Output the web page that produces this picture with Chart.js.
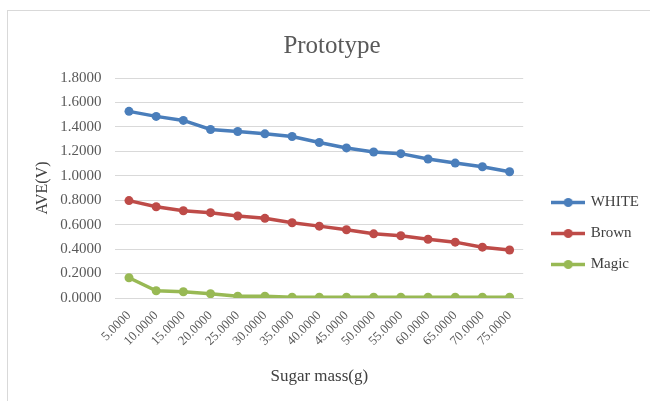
<!DOCTYPE html>
<html>
<head>
<meta charset="utf-8">
<script src="https://cdn.jsdelivr.net/npm/chart.js@4/dist/chart.umd.min.js"></script>
<style>
  html, body { margin: 0; padding: 0; background: #fff; overflow: hidden; }
  #frame {
    position: absolute; left: 7px; top: 10px; width: 700px; height: 500px;
    border: 1px solid #d9d9d9;
  }
  #wrap { position: absolute; left: 0; top: 0; width: 650px; height: 401px; }
</style>
</head>
<body>
<div id="frame"></div>
<div id="wrap"><canvas id="chart"></canvas></div>
<script>
// Sugar mass categories (g), as printed on the x axis.
const massLabels = ['5.0000', '10.0000', '15.0000', '20.0000', '25.0000', '30.0000', '35.0000',
    '40.0000', '45.0000', '50.0000', '55.0000', '60.0000', '65.0000', '70.0000', '75.0000'];

// AVE(V) readings per sugar type.
const whiteValues = [1.527, 1.486, 1.453, 1.379, 1.362, 1.343, 1.321, 1.272, 1.228, 1.195, 1.181, 1.137, 1.104, 1.074, 1.033];
const brownValues = [0.797, 0.747, 0.714, 0.698, 0.671, 0.652, 0.616, 0.588, 0.558, 0.525, 0.509, 0.481, 0.457, 0.416, 0.393];
const magicValues = [0.166, 0.059, 0.051, 0.035, 0.015, 0.015, 0.007, 0.007, 0.007, 0.007, 0.007, 0.007, 0.007, 0.007, 0.007];

const seriesNames = ['WHITE', 'Brown', 'Magic'];
const seriesColors = ['#4a7ebb', '#be4b48', '#98b954'];

Chart.defaults.font.family = "'Liberation Serif', 'DejaVu Serif', serif";
Chart.defaults.color = '#595959';

// Legend marker: a short line with a dot, the way Excel draws it.
function legendIcon(color) {
    const c = document.createElement('canvas');
    c.width = 34;
    c.height = 11;
    const ctx = c.getContext('2d');
    ctx.strokeStyle = color;
    ctx.lineWidth = 3.5;
    ctx.beginPath();
    ctx.moveTo(0, 5.5);
    ctx.lineTo(34, 5.5);
    ctx.stroke();
    ctx.fillStyle = color;
    ctx.beginPath();
    ctx.arc(17, 5.5, 4.5, 0, Math.PI * 2);
    ctx.fill();
    return c;
}
const icons = seriesColors.map(legendIcon);

// Excel centres the legend on the whole plot block, not just the chart area.
const legendNudge = {
    id: 'legendNudge',
    afterLayout(chart) {
        const l = chart.legend;
        l.left += 14; l.right += 14;
        l.top += 33; l.bottom += 33;
    },
};

const datasets = [whiteValues, brownValues, magicValues].map((values, i) => ({
    label: seriesNames[i],
    data: values,
    borderColor: seriesColors[i],
    backgroundColor: seriesColors[i],
    borderWidth: 3.5,
    pointRadius: 4.5,
    pointHoverRadius: 4.5,
    pointBorderWidth: 0,
    tension: 0,
}));

new Chart(document.getElementById('chart'), {
    type: 'line',
    data: { labels: massLabels, datasets },
    plugins: [legendNudge],
    options: {
        responsive: true,
        maintainAspectRatio: false,
        animation: false,
        layout: { padding: { left: 29, right: 15, top: 0, bottom: 0 } },
        plugins: {
            title: {
                display: true,
                text: 'Prototype',
                font: { size: 25, weight: 'normal' },
                color: '#595959',
                padding: { top: 31, bottom: 17 },
            },
            legend: {
                position: 'right',
                labels: {
                    usePointStyle: true,
                    pointStyleWidth: 30,
                    padding: 16,
                    font: { size: 15 },
                    color: '#404040',
                    generateLabels: (chart) =>
                        Chart.defaults.plugins.legend.labels.generateLabels(chart)
                            .map((item) => ({ ...item, pointStyle: icons[item.datasetIndex] })),
                },
            },
            tooltip: { enabled: false },
        },
        scales: {
            x: {
                offset: true,
                afterFit: (scale) => { scale.height = 103; },
                grid: { display: false, drawTicks: false },
                border: { display: false },
                ticks: { autoSkip: false, minRotation: 45, maxRotation: 45, padding: 10, font: { size: 13 } },
                title: {
                    display: true,
                    text: 'Sugar mass(g)',
                    font: { size: 17 },
                    color: '#404040',
                    padding: { top: 0, bottom: 14 },
                },
            },
            y: {
                min: 0,
                max: 1.8,
                afterFit: (scale) => { scale.width = 86.4; },
                grid: { color: '#d9d9d9', lineWidth: 1, drawTicks: false },
                border: { display: false },
                ticks: {
                    stepSize: 0.2,
                    padding: 14,
                    font: { size: 15 },
                    callback: (v) => v.toFixed(4),
                },
                title: {
                    display: true,
                    text: 'AVE(V)',
                    font: { size: 16 },
                    color: '#404040',
                    padding: { top: 4.4, bottom: 0 },
                },
            },
        },
    },
});
</script>
</body>
</html>
